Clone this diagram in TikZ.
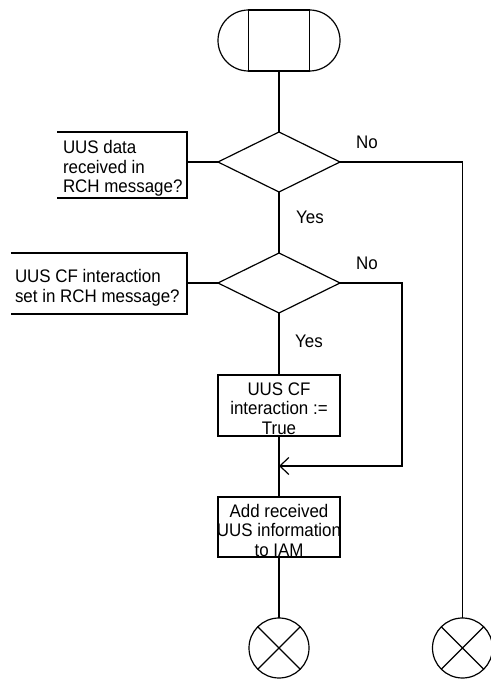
\documentclass[tikz,border=0pt]{standalone}
\usepackage{fontspec}
\setmainfont{Liberation Sans}[FakeStretch=0.93]
\usetikzlibrary{shapes.geometric,arrows.meta}
\tikzset{
  every path/.style={line width=1.2bp},
  txt/.style={font=\fontsize{18.2bp}{19.5bp}\selectfont, inner sep=0pt, outer sep=0pt},
  procbox/.style={draw, line width=1.2bp, minimum width=122bp, minimum height=60bp, inner sep=0pt, outer sep=0pt},
  decision/.style={draw, line width=1.2bp, diamond, minimum width=122bp, minimum height=60bp, inner sep=0pt, outer sep=0pt},
  commentbox/.style={inner sep=0pt, outer sep=0pt},
  endcircle/.style={draw, line width=1.2bp, circle, minimum size=60bp, inner sep=0pt, outer sep=0pt},
  termrect/.style={draw, line width=1.2bp, minimum width=61bp, minimum height=61bp, inner sep=0pt, outer sep=0pt},
  barb/.style={-{Straight Barb[length=9bp,width=17bp]}}
}
\begin{document}
\begin{tikzpicture}[x=1bp,y=1bp]
\useasboundingbox (0,0) rectangle (491,682);
% start terminal
\node[termrect] (start) at (279,641.5) {};
\draw (start.north west) arc[start angle=90, end angle=270, radius=30.5bp];
\draw (start.north east) arc[start angle=90, end angle=-90, radius=30.5bp];
% decision 1
\node[decision] (d1) at (279,520) {};
\node[commentbox, minimum width=130bp, minimum height=66bp] (cm1) at (122,517) {};
\draw (cm1.north west) -- (cm1.north east) -- (cm1.south east) -- (cm1.south west);
\node[txt, align=left, anchor=west] (cm1t) at (63,513.5) {UUS data\\received in\\RCH message?};
\node[txt] (no1) at (367,540) {No};
\node[txt] (yes1) at (310,465) {Yes};
% decision 2
\node[decision] (d2) at (279,399) {};
\node[commentbox, minimum width=176bp, minimum height=61bp] (cm2) at (99,398.5) {};
\draw (cm2.north west) -- (cm2.north east) -- (cm2.south east) -- (cm2.south west);
\node[txt, align=left, anchor=west] (cm2t) at (15,394) {UUS CF interaction\\set in RCH message?};
\node[txt] (no2) at (367,419) {No};
\node[txt] (yes2) at (309,341) {Yes};
% tasks
\node[procbox, minimum height=61bp] (b3) at (279,276.5) {};
\node[txt, align=center] (b3t) at (279,273.5) {UUS CF\\interaction :=\\True};
\node[procbox] (b4) at (279,155) {};
\node[txt, align=center] (b4t) at (279,152) {Add received\\UUS information\\to IAM};
% ends
\node[endcircle] (c1) at (279,34) {};
\draw (c1.north west) -- (c1.south east) (c1.north east) -- (c1.south west);
\node[endcircle] (c2) at (462.5,34) {};
\draw (c2.north west) -- (c2.south east) (c2.north east) -- (c2.south west);
% coordinates
\coordinate (loopc) at (402,399);
\coordinate (join) at (279,216);
% connectors
\draw (start.south) -- (d1.north);
\draw (d1.west) -- (d1.west -| cm1.east);
\draw (d2.west) -- (d2.west -| cm2.east);
\draw (d1.south) -- (d2.north);
\draw (d2.south) -- (b3.north);
\draw (b3.south) -- (b4.north);
\draw (b4.south) -- (c1.north);
\draw (d1.east) -| (c2.north);
\draw[barb] (d2.east) -- (loopc) |- (join);
\end{tikzpicture}
\end{document}
